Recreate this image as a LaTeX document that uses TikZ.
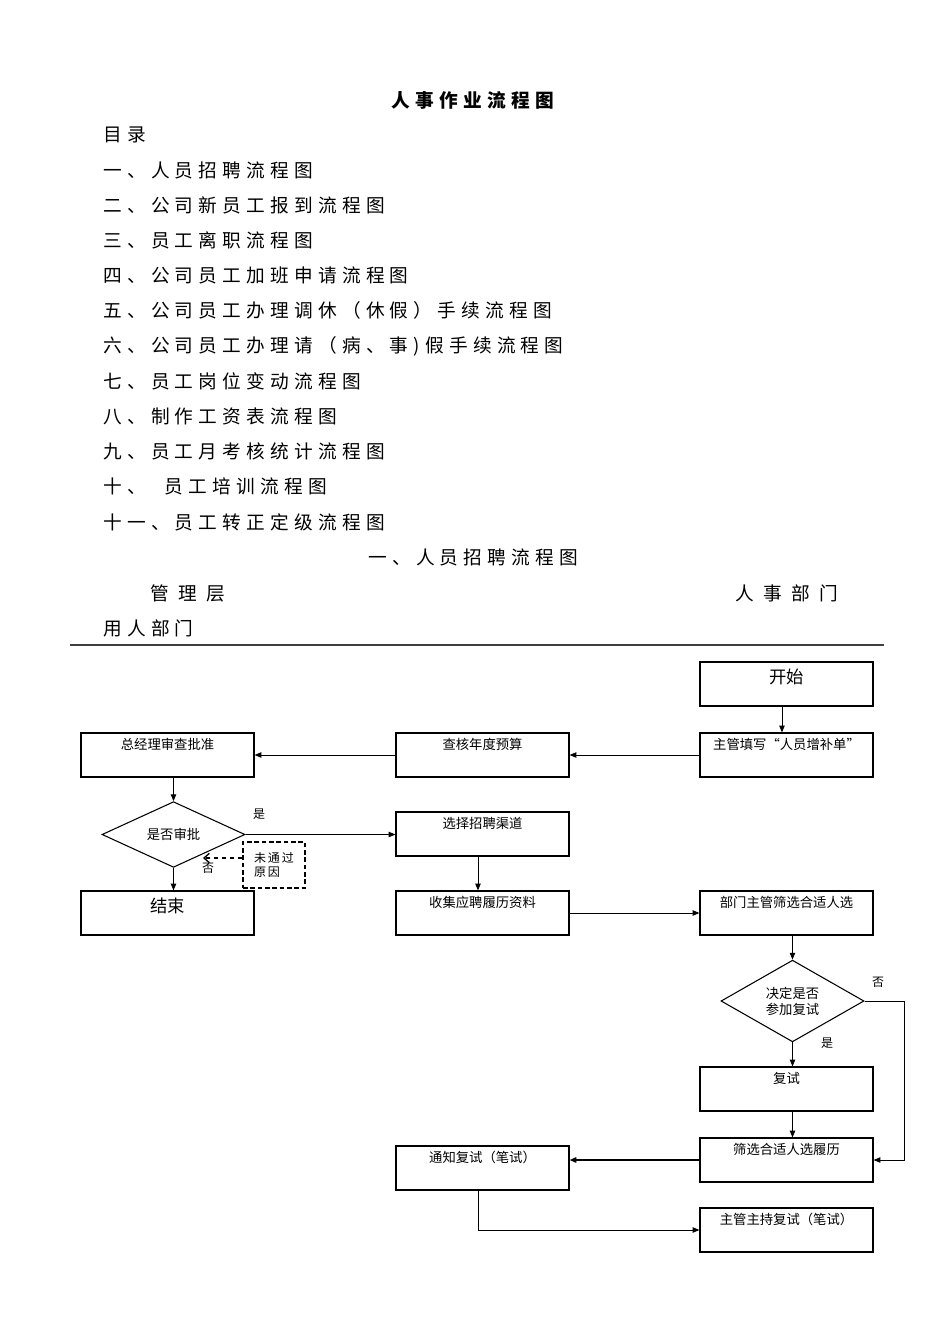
\documentclass[tikz,border=0pt]{standalone}
\usepackage{fontspec}
\setmainfont{Noto Sans CJK SC}
\newfontfamily\tocfont{Noto Sans CJK SC}[LetterSpace=28]
\newfontfamily\notefont{Noto Sans CJK SC}[LetterSpace=15]
\usetikzlibrary{arrows.meta}
\usetikzlibrary{positioning, shapes.geometric}

\begin{document}
\begin{tikzpicture}[x=0.75pt, y=-0.75pt,
	box/.style={rectangle, draw, line width=0.9pt, minimum width=129.75pt, minimum height=33pt, inner sep=0pt, text height=12.5pt, text depth=20.5pt, font=\fontsize{10}{12}\selectfont},
	bigbox/.style={box, text height=16pt, text depth=17pt, font=\fontsize{13}{15}\selectfont},
	decision/.style={diamond, draw, line width=0.8pt, inner sep=0pt, minimum width=107.25pt, align=center, font=\fontsize{10}{12}\selectfont},
	toc/.style={anchor=west, inner sep=0pt, font=\tocfont\fontsize{14}{16}\selectfont},
	flow/.style={-{Triangle[length=5pt, width=4pt]}, line width=0.6pt},
	tag/.style={inner sep=0pt, font=\fontsize{9}{10}\selectfont}]
	\path[use as bounding box, fill=white] (0,0) rectangle (950,1344);

	% --- Title and contents ---
	\node[font=\tocfont\bfseries\fontsize{14}{16}\selectfont] (title) at (473, 100) {人事作业流程图};
	\node[toc] (toc0) at (103, 134.8) {目录};
	\foreach \t [count=\i] in {一、人员招聘流程图, 二、公司新员工报到流程图, 三、员工离职流程图, 四、公司员工加班申请流程图, 五、公司员工办理调休（休假）手续流程图, 六、公司员工办理请（病、事)假手续流程图, 七、员工岗位变动流程图, 八、制作工资表流程图, 九、员工月考核统计流程图, 十、\ \ 员工培训流程图, 十一、员工转正定级流程图}
		\node[toc] (toc\i) at (103, 134.8+35.2*\i) {\t};

	% --- Chart heading ---
	\node[toc] (sub) at (368, 557) {一、人员招聘流程图};
	\node[toc] (mgmt) at (150, 593) {管\ 理\ 层};
	\node[toc] (hr) at (735, 593) {人\ 事\ 部\ 门};
	\node[toc] (dept) at (103, 628) {用人部门};
	\draw[line width=0.8pt, black!75] (70, 645) -- (884, 645);

	% --- Boxes ---
	\node[bigbox] (start) at (786.5, 684) {开始};
	\node[box] (req) at (786.5, 755) {主管填写“人员增补单”};
	\node[box] (budget) at (482.5, 755) {查核年度预算};
	\node[box] (gm) at (167.5, 755) {总经理审查批准};
	\node[decision, minimum height=45.75pt] (dec1) at (173.5, 834.5) {是否审批};
	\node[box] (channel) at (482.5, 834) {选择招聘渠道};
	\node[rectangle, draw, dashed, dash pattern=on 3.5pt off 2pt, line width=1pt, minimum width=46.5pt, minimum height=34.5pt, inner sep=0pt, align=left, font=\notefont\fontsize{9}{10.5}\selectfont] (reason) at (274, 865) {未通过\\原因};
	\node[bigbox] (stop) at (167.5, 913) {结束};
	\node[box] (collect) at (482.5, 913) {收集应聘履历资料};
	\node[box] (screen) at (786.5, 913) {部门主管筛选合适人选};
	\node[decision, minimum height=58.5pt] (dec2) at (792.5, 1001) {决定是否\\参加复试};
	\node[box] (retest) at (786.5, 1089) {复试};
	\node[box] (pick) at (786.5, 1160) {筛选合适人选履历};
	\node[box] (notify) at (482.5, 1168) {通知复试（笔试）};
	\node[box] (host) at (786.5, 1230) {主管主持复试（笔试）};

	% --- Connectors ---
	\draw[flow] ([xshift=-3.4pt]start.south) -- ([xshift=-3.4pt]req.north);
	\draw[flow] (req.west) -- (budget.east);
	\draw[flow] (budget.west) -- (gm.east);
	\draw[flow] (gm.south -| dec1.north) -- (dec1.north);
	\draw[flow] (dec1.east) -- (dec1.east -| channel.west);
	\node[tag] (yes1) at (259, 814) {是};
	\coordinate (nopass) at (203, 858);
	\draw[dashed, line width=1pt, -{Straight Barb[length=4pt, width=7pt]}] ([yshift=5.25pt]reason.west) -- (nopass);
	\node[tag] (no1) at (208, 868) {否};
	\draw[flow] (dec1.south) -- (dec1.south |- stop.north);
	\draw[flow] ([xshift=-3.4pt]channel.south) -- ([xshift=-3.4pt]collect.north);
	\draw[flow] (collect.east) -- (screen.west);
	\draw[flow] (screen.south -| dec2.north) -- (dec2.north);
	\draw[flow] (dec2.south) -- (dec2.south |- retest.north);
	\node[tag] (yes2) at (827, 1043) {是};
	\draw[flow] (dec2.east) -- ++(40,0) |- (pick.east);
	\node[tag] (no2) at (878, 982) {否};
	\draw[flow] (retest.south -| dec2.south) -- (pick.north -| dec2.south);
	\draw[-{Triangle[length=5pt, width=4pt]}, line width=1.4pt] (pick.west) -- (pick.west -| notify.east);
	\draw[flow] ([xshift=-3.4pt]notify.south) |- (host.west);
\end{tikzpicture}
\end{document}
